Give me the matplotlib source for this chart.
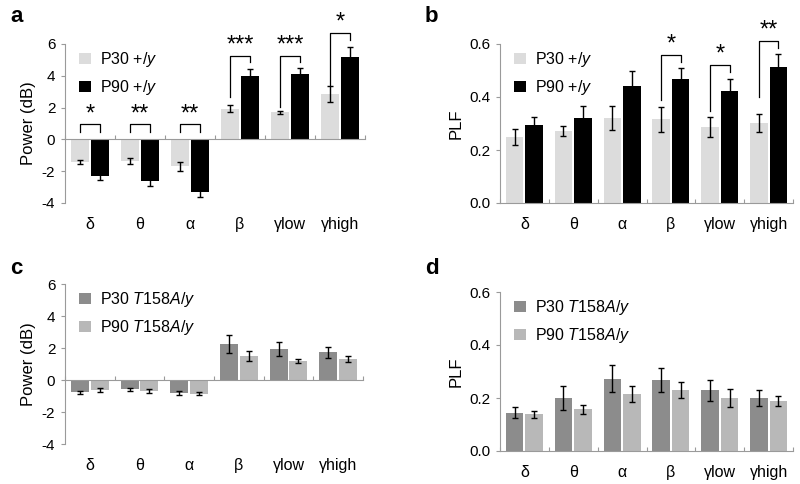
import matplotlib
matplotlib.use("Agg")
import matplotlib.pyplot as plt
import numpy as np

plt.rcParams['font.family'] = ['Liberation Sans', 'DejaVu Sans']
plt.rcParams['mathtext.fontset'] = 'custom'
plt.rcParams['mathtext.rm'] = 'Liberation Sans'
plt.rcParams['mathtext.it'] = 'Liberation Sans:italic'

bandas = ['δ', 'θ', 'α', 'β', 'γlow', 'γhigh']

# panel a: power, wild type
pot_p30_wt = [-1.42, -1.35, -1.70, 1.92, 1.70, 2.85]
pot_p30_wt_err = [0.15, 0.20, 0.30, 0.22, 0.10, 0.50]
pot_p90_wt = [-2.30, -2.62, -3.30, 4.00, 4.12, 5.20]
pot_p90_wt_err = [0.25, 0.30, 0.35, 0.40, 0.35, 0.60]
sig_a = ['*', '**', '**', '***', '***', '*']

# panel b: PLF, wild type
plf_p30_wt = [0.249, 0.271, 0.320, 0.316, 0.286, 0.302]
plf_p30_wt_err = [0.030, 0.020, 0.046, 0.048, 0.037, 0.034]
plf_p90_wt = [0.296, 0.320, 0.440, 0.468, 0.424, 0.512]
plf_p90_wt_err = [0.028, 0.045, 0.057, 0.040, 0.045, 0.050]
sig_b = ['', '', '', '*', '*', '**']

# panel c: power, T158A
pot_p30_mut = [-0.78, -0.59, -0.79, 2.26, 1.92, 1.72]
pot_p30_mut_err = [0.10, 0.07, 0.13, 0.57, 0.43, 0.33]
pot_p90_mut = [-0.63, -0.69, -0.86, 1.51, 1.19, 1.32]
pot_p90_mut_err = [0.10, 0.12, 0.09, 0.30, 0.15, 0.20]

# panel d: PLF, T158A
plf_p30_mut = [0.145, 0.201, 0.273, 0.269, 0.229, 0.201]
plf_p30_mut_err = [0.022, 0.045, 0.050, 0.045, 0.040, 0.030]
plf_p90_mut = [0.138, 0.157, 0.216, 0.229, 0.200, 0.189]
plf_p90_mut_err = [0.012, 0.018, 0.030, 0.030, 0.035, 0.018]

W, H = 800, 484
fig = plt.figure(figsize=(8, 4.84), dpi=100)

def caja(x0, y0, x1, y1):
    # pixel box -> figure fraction
    return [x0 / W, 1 - y1 / H, (x1 - x0) / W, (y1 - y0) / H]

gris_eje = '#9a9a9a'
ancho = 0.36

def panel(ax, v1, e1, v2, e2, c1, c2, lab1, lab2, ylim, yticks, fmt, ylabel):
    x = np.arange(len(bandas))
    ax.bar(x - 0.2, v1, ancho, color=c1, label=lab1, zorder=2)
    ax.bar(x + 0.2, v2, ancho, color=c2, label=lab2, zorder=2)
    kw = dict(fmt='none', ecolor='black', elinewidth=1, capsize=2.5, capthick=1, zorder=3)
    ax.errorbar(x - 0.2, v1, yerr=e1, **kw)
    ax.errorbar(x + 0.2, v2, yerr=e2, **kw)
    ax.set_xlim(-0.5, len(bandas) - 0.5)
    ax.set_ylim(*ylim)
    ax.set_yticks(yticks)
    ax.set_yticklabels([fmt.format(t) for t in yticks], fontsize=11)
    ax.set_ylabel(ylabel, fontsize=12)
    ax.spines['top'].set_visible(False)
    ax.spines['right'].set_visible(False)
    ax.spines['left'].set_color(gris_eje)
    ax.spines['bottom'].set_color(gris_eje)
    ax.spines['bottom'].set_position(('data', 0))
    ax.tick_params(axis='y', color=gris_eje, length=3, direction='out', pad=4)
    ax.set_xticks(np.arange(len(bandas) + 1) - 0.5)
    ax.set_xticklabels([])
    ax.tick_params(axis='x', color=gris_eje, length=3, direction='in')
    for i, b in enumerate(bandas):
        ax.text(i, ylim[0] - (ylim[1] - ylim[0]) * 0.085, b, ha='center', va='top', fontsize=11.5)
    ax.legend(loc='upper left', bbox_to_anchor=(0.0, 1.05), frameon=False, fontsize=11.5,
              handlelength=0.7, handleheight=0.7, handletextpad=0.6, labelspacing=0.55)

def corchete(ax, i, izq, der, tope, txt, off):
    xa, xb = i - 0.2, i + 0.2
    ax.plot([xa, xa, xb, xb], [izq, tope, tope, der], color='black', lw=0.9, zorder=4, clip_on=False)
    ax.text(i, tope + off, txt, ha='center', va='center', fontsize=17)

ax_a = fig.add_axes(caja(65, 44, 365, 203))
panel(ax_a, pot_p30_wt, pot_p30_wt_err, pot_p90_wt, pot_p90_wt_err, '#dcdcdc', 'black',
      'P30 +/$\\mathit{y}$', 'P90 +/$\\mathit{y}$', (-4, 6), [-4, -2, 0, 2, 4, 6], '{:.0f}', 'Power (dB)')
for i in range(3):
    corchete(ax_a, i, 0.46, 0.46, 0.94, sig_a[i], 0.6)
corchete(ax_a, 3, 2.65, 4.87, 5.25, sig_a[3], 0.65)
corchete(ax_a, 4, 2.06, 4.87, 5.25, sig_a[4], 0.65)
corchete(ax_a, 5, 3.40, 6.25, 6.67, sig_a[5], 0.65)

ax_b = fig.add_axes(caja(500, 44, 793, 203))
panel(ax_b, plf_p30_wt, plf_p30_wt_err, plf_p90_wt, plf_p90_wt_err, '#dcdcdc', 'black',
      'P30 +/$\\mathit{y}$', 'P90 +/$\\mathit{y}$', (0, 0.6), [0, 0.2, 0.4, 0.6], '{:.1f}', 'PLF')
corchete(ax_b, 3, 0.387, 0.531, 0.559, sig_b[3], 0.04)
corchete(ax_b, 4, 0.349, 0.496, 0.522, sig_b[4], 0.04)
corchete(ax_b, 5, 0.400, 0.584, 0.610, sig_b[5], 0.04)

ax_c = fig.add_axes(caja(65, 284, 363, 444))
panel(ax_c, pot_p30_mut, pot_p30_mut_err, pot_p90_mut, pot_p90_mut_err, '#8c8c8c', '#b8b8b8',
      'P30 $\\mathit{T158A/y}$', 'P90 $\\mathit{T158A/y}$', (-4, 6), [-4, -2, 0, 2, 4, 6], '{:.0f}', 'Power (dB)')

ax_d = fig.add_axes(caja(500, 292, 793, 451))
panel(ax_d, plf_p30_mut, plf_p30_mut_err, plf_p90_mut, plf_p90_mut_err, '#8c8c8c', '#b8b8b8',
      'P30 $\\mathit{T158A/y}$', 'P90 $\\mathit{T158A/y}$', (0, 0.6), [0, 0.2, 0.4, 0.6], '{:.1f}', 'PLF')

for letra, px, py in [('a', 10, 16), ('b', 425, 16), ('c', 10, 268), ('d', 425, 268)]:
    fig.text(px / W, 1 - py / H, letra, fontsize=16, fontweight='bold', va='center')

fig.savefig('out.png', dpi=100, facecolor='white')
